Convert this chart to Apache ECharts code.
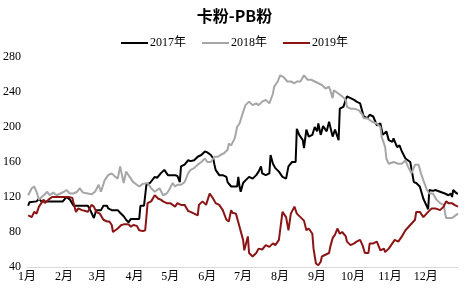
<!DOCTYPE html>
<html><head><meta charset="utf-8">
<script src="https://cdn.jsdelivr.net/npm/echarts@6/dist/echarts.min.js"></script>
<style>html,body{margin:0;padding:0;background:#fff}#c{width:469px;height:291px}</style>
</head><body><div id="c"></div>
<script>
// Day of year (0 = Jan 1) where each month starts, and the month labels
var monthStarts = [0, 31, 59, 90, 120, 151, 181, 212, 243, 273, 304, 334];
var monthLabels = ['1月','2月','3月','4月','5月','6月','7月','8月','9月','10月','11月','12月'];
var yTicks = [40, 80, 120, 160, 200, 240, 280];
var seriesNames = ['2017年', '2018年', '2019年'];

var days2017 = [1,2,8,10,12,20,30,33,36,39,45,51,53,56,58,62,64,67,68,71,76,78,81,83,85,87,92,94,95,98,100,103,107,109,112,115,118,121,124,126,128,129,132,135,137,140,143,146,149,150,151,154,156,157,158,161,164,167,168,171,174,176,177,178,179,181,183,186,189,192,194,196,197,200,203,204,206,208,211,214,215,217,219,222,225,226,228,231,232,234,236,239,241,243,244,246,248,251,253,256,258,261,262,265,267,268,271,274,276,279,281,282,285,287,290,293,296,298,301,303,306,307,310,312,314,317,319,321,324,325,326,329,332,335,336,337,340,342,346,350,353,355,356,357,360,361];
var vals2017 = [110,114,115,118,115,115,115,120,117,110,110,110,105,96,105,105,110,110,107,105,105,102,98,94,91,95,95,95,110,110,134,136,143,142,147,151,145,145,145,144,137,155,157,162,161,162,166,168,172,174,171,168,164,157,151,145,145,143,137,132,132,132,143,132,126,136,139,143,141,145,149,155,147,145,147,168,158,153,149,143,145,141,155,160,160,198,191,185,176,197,189,191,200,195,204,191,201,195,206,189,197,185,221,223,231,235,233,231,229,227,217,212,210,214,212,202,204,191,195,185,183,187,177,179,172,164,162,160,137,139,136,132,118,109,106,128,127,128,126,124,122,124,120,128,124,124];

var days2018 = [1,4,6,8,10,11,14,17,19,22,25,28,31,33,36,39,42,44,47,51,54,57,60,62,65,68,71,74,76,78,81,83,86,89,92,94,97,101,104,107,108,111,114,117,119,122,124,126,129,132,135,137,140,143,146,149,151,154,157,160,162,165,168,169,171,174,176,178,181,183,186,189,192,194,197,200,203,206,207,208,210,212,215,218,221,224,226,229,232,235,238,241,244,247,250,253,254,256,257,261,264,267,268,271,274,278,281,282,285,289,293,296,297,300,301,303,307,311,314,317,319,322,325,328,330,332,335,337,340,343,346,349,351,356,359,361];
var vals2018 = [122,130,132,126,117,118,122,126,122,125,122,124,126,128,124,124,126,130,125,124,123,126,134,126,139,145,147,143,141,155,136,149,143,137,134,132,135,136,130,126,124,130,122,124,128,136,132,134,134,137,147,151,153,157,160,164,160,160,166,166,168,170,174,181,179,187,200,204,217,225,229,225,227,225,229,231,227,238,246,244,252,259,257,252,252,250,252,252,259,254,254,252,250,248,244,246,242,233,242,238,235,231,223,221,221,219,214,210,210,206,204,200,189,177,164,158,160,158,158,162,155,147,157,157,147,139,128,124,124,117,113,111,96,96,99,101];

var days2019 = [1,4,6,8,10,12,14,15,18,21,25,30,35,38,39,41,43,46,49,51,54,56,58,61,64,67,69,71,72,74,76,79,82,85,87,89,92,94,97,99,100,101,104,107,110,112,114,117,120,124,126,129,132,135,137,140,143,144,147,150,153,154,156,158,161,164,167,169,171,172,175,178,181,182,185,186,189,192,194,197,200,203,206,208,211,214,217,219,221,224,226,229,232,234,236,239,240,242,244,246,247,250,253,254,256,258,260,262,264,267,268,271,274,276,279,281,283,286,287,290,293,296,299,300,303,306,308,311,314,317,321,325,326,329,332,336,339,342,346,349,351,353,356,358,361];
var vals2019 = [99,97,103,101,109,113,117,113,117,120,120,120,120,119,113,103,107,105,104,103,111,109,103,101,94,92,92,88,80,82,84,88,89,89,86,88,87,82,81,82,97,113,115,122,118,117,115,113,113,109,113,111,111,104,103,101,99,111,115,111,124,126,118,113,111,105,94,92,105,102,101,86,71,59,75,56,52,56,61,60,65,63,67,65,71,103,97,82,101,109,101,97,93,82,84,78,61,44,42,46,52,54,56,63,73,77,84,78,80,75,69,65,67,69,71,65,56,56,67,67,69,59,61,57,61,67,71,69,75,82,88,94,103,103,97,103,107,107,105,109,115,113,113,111,109];

function pairs(d, v) { return d.map(function (x, i) { return [x, v[i]]; }); }

var chart = echarts.init(document.getElementById('c'), null, {renderer: 'canvas'});
var labelMap = {};
monthStarts.forEach(function (d, i) { labelMap[d] = monthLabels[i]; });
var lblFont = "'Liberation Serif', 'Noto Sans CJK SC', serif";

chart.setOption({
  animation: false,
  backgroundColor: '#fff',
  title: {
    text: '卡粉-PB粉', left: 'center', top: 3,
    textStyle: {fontSize: 16, fontWeight: 'bold', color: '#000', fontFamily: "'Noto Sans CJK SC', sans-serif"}
  },
  legend: {
    top: 32, left: 'center', icon: 'rect', itemWidth: 27, itemHeight: 2, itemGap: 16,
    textStyle: {fontSize: 12, color: '#000', fontFamily: lblFont, padding: [0, 0, 0, -3]},
    data: seriesNames
  },
  grid: {left: 25, right: 11, top: 57, bottom: 24, containLabel: false},
  xAxis: {
    type: 'value', min: 0, max: days2017[days2017.length - 1], interval: 1,
    axisLine: {show: true, lineStyle: {color: '#d9d9d9', width: 1}},
    axisTick: {show: false},
    splitLine: {show: false},
    axisLabel: {
      margin: 4, fontSize: 12, color: '#000', fontFamily: lblFont,
      showMinLabel: true, showMaxLabel: true,
      formatter: function (v) { return labelMap[v] || ''; }
    }
  },
  yAxis: {
    type: 'value', min: yTicks[0], max: yTicks[yTicks.length - 1], interval: 40,
    axisLine: {show: false}, axisTick: {show: false}, splitLine: {show: false},
    axisLabel: {margin: 6, fontSize: 12, color: '#000', fontFamily: lblFont}
  },
  series: [
    {name: seriesNames[0], type: 'line', symbol: 'none', data: pairs(days2017, vals2017),
     lineStyle: {color: '#000000', width: 2}, itemStyle: {color: '#000000'}},
    {name: seriesNames[1], type: 'line', symbol: 'none', data: pairs(days2018, vals2018),
     lineStyle: {color: '#a6a6a6', width: 2}, itemStyle: {color: '#a6a6a6'}},
    {name: seriesNames[2], type: 'line', symbol: 'none', data: pairs(days2019, vals2019),
     lineStyle: {color: '#8b1414', width: 2}, itemStyle: {color: '#8b1414'}}
  ]
});
</script></body></html>
